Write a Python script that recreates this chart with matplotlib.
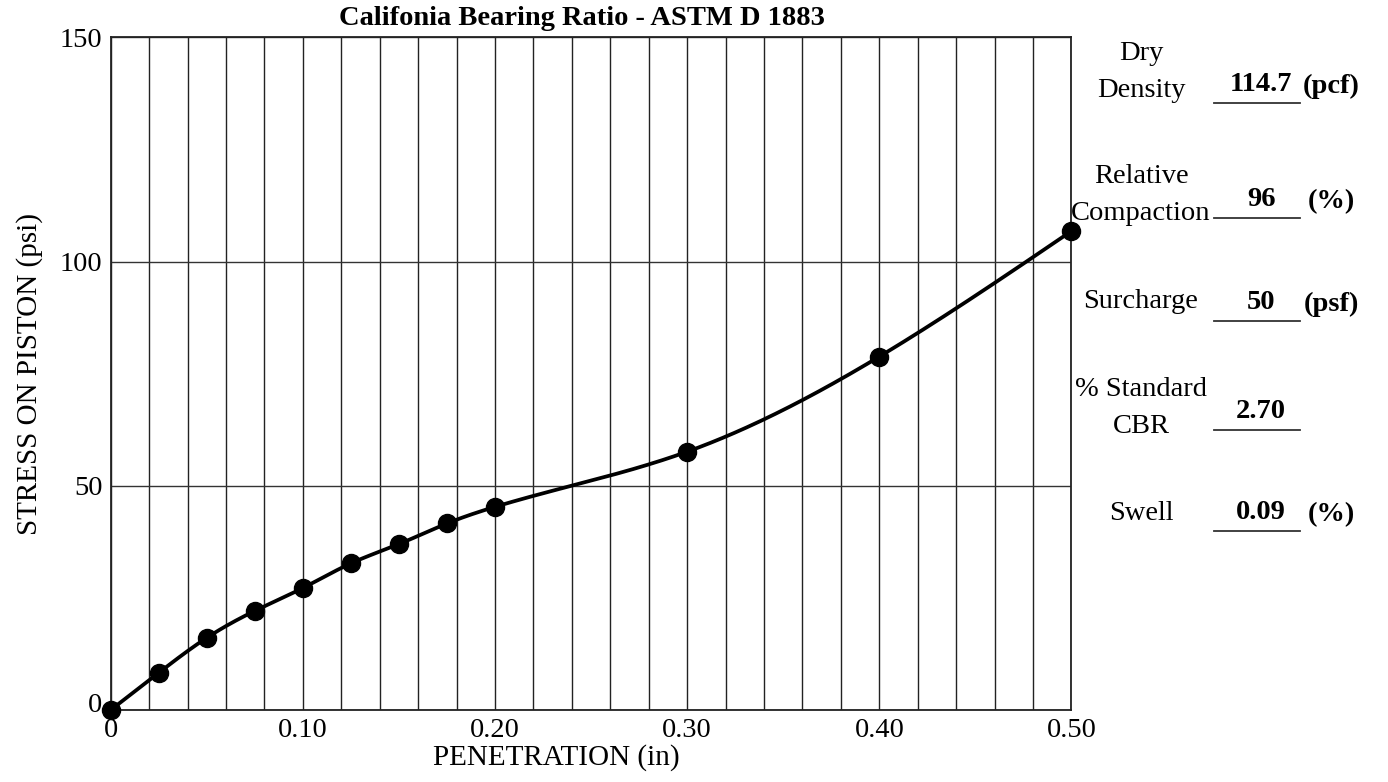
import numpy as np
import matplotlib
matplotlib.use("Agg")
import matplotlib.pyplot as plt
from matplotlib.lines import Line2D
from matplotlib.transforms import ScaledTranslation

plt.rcParams['font.family'] = ['Liberation Serif', 'DejaVu Serif']

# test readings
penetration = [0.0, 0.025, 0.05, 0.075, 0.10, 0.125, 0.15, 0.175, 0.20, 0.30, 0.40, 0.50]
stress = [0.0, 8.3, 16.1, 22.1, 27.2, 32.7, 37.0, 41.6, 45.3, 57.6, 78.8, 106.8]

xticks = [0.0, 0.1, 0.2, 0.3, 0.4, 0.5]
xticklabels = ["0", "0.10", "0.20", "0.30", "0.40", "0.50"]
yticks = [0, 50, 100, 150]

# summary panel on the right
info_names = ["Dry\nDensity", "Relative\nCompaction", "Surcharge", "% Standard\nCBR", "Swell"]
info_values = ["114.7", "96", "50", "2.70", "0.09"]
info_units = ["(pcf)", "(%)", "(psf)", "", "(%)"]


def natural_spline(x, y, n=400):
    x = np.asarray(x, float)
    y = np.asarray(y, float)
    k = len(x)
    h = np.diff(x)
    A = np.zeros((k, k))
    b = np.zeros(k)
    A[0, 0] = 1
    A[-1, -1] = 1
    for i in range(1, k - 1):
        A[i, i - 1] = h[i - 1]
        A[i, i] = 2 * (h[i - 1] + h[i])
        A[i, i + 1] = h[i]
        b[i] = 6 * ((y[i + 1] - y[i]) / h[i] - (y[i] - y[i - 1]) / h[i - 1])
    M = np.linalg.solve(A, b)
    xs = np.linspace(x[0], x[-1], n)
    idx = np.clip(np.searchsorted(x, xs) - 1, 0, k - 2)
    x0, x1 = x[idx], x[idx + 1]
    hh = x1 - x0
    t0 = x1 - xs
    t1 = xs - x0
    ys = (M[idx] * t0 ** 3 + M[idx + 1] * t1 ** 3) / (6 * hh) \
        + (y[idx] / hh - M[idx] * hh / 6) * t0 \
        + (y[idx + 1] / hh - M[idx + 1] * hh / 6) * t1
    return xs, ys


W, H = 1388, 782
fig = plt.figure(figsize=(W / 100, H / 100), dpi=100)
ax = fig.add_axes([110.7 / W, 1 - 710 / H, (1071.5 - 110.7) / W, (710 - 37.3) / H])

FS = 20.5

ax.set_xlim(0, 0.5)
ax.set_ylim(0, 150)
ax.set_xticks(xticks)
ax.set_xticklabels(xticklabels)
ax.set_xticks(np.arange(0, 0.5001, 0.02), minor=True)
ax.set_yticks(yticks)
ax.tick_params(which='both', length=0, labelsize=FS, pad=6)
ax.grid(which='minor', axis='x', color='#222222', linewidth=1.0)
ax.grid(which='major', axis='x', color='#222222', linewidth=1.0)
ax.grid(which='major', axis='y', color='#333333', linewidth=1.0)
ax.set_axisbelow(True)
for s in ax.spines.values():
    s.set_linewidth(1.3)
    s.set_color('#222222')

xs, ys = natural_spline(penetration, stress)
ax.plot(xs, ys, color='black', linewidth=2.7, clip_on=False, zorder=3)
ax.plot(penetration, stress, 'o', color='black', markersize=13, clip_on=False, zorder=4)

ax.set_xlabel("PENETRATION (in)", fontsize=21)
ax.xaxis.set_label_coords(0.464, -0.05)
ax.set_ylabel("STRESS ON PISTON (psi)", fontsize=21, labelpad=12)
ax.set_title("Califonia Bearing Ratio - ASTM D 1883", fontsize=20.5, fontweight='bold',
             x=0.49, pad=9)

# lift the y "0" label a bit, like the original
lab0 = ax.yaxis.get_major_ticks()[0].label1
lab0.set_transform(lab0.get_transform() + ScaledTranslation(0, 8 / 100, fig.dpi_scale_trans))

# right-hand summary
row_y = [72, 195, 301, 408, 513]
line_y = [103, 218, 321, 430, 531]
for name, val, unit, yy, ly in zip(info_names, info_values, info_units, row_y, line_y):
    fig.text(1141 / W, 1 - yy / H, name, ha='center', va='center', fontsize=FS,
             linespacing=1.62)
    fig.text(1261 / W, 1 - (ly - 12) / H, val, ha='center', va='baseline', fontsize=FS,
             fontweight='bold')
    if unit:
        fig.text(1331 / W, 1 - (ly - 10) / H, unit, ha='center', va='baseline', fontsize=FS,
                 fontweight='bold')
    fig.add_artist(Line2D([1214 / W, 1300 / W], [1 - ly / H, 1 - ly / H],
                          color='#333333', linewidth=1.3))

fig.savefig("out.png", dpi=100)
